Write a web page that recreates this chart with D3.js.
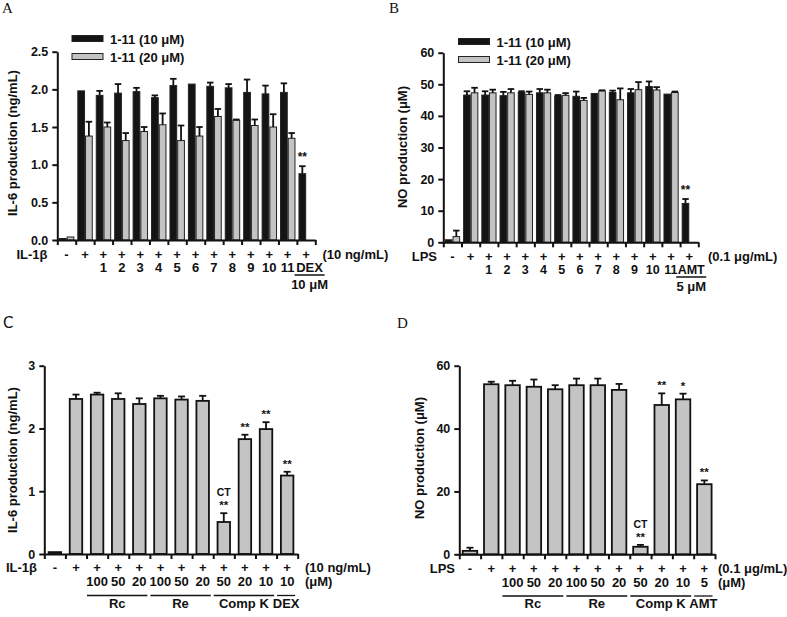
<!DOCTYPE html>
<html><head><meta charset="utf-8">
<script src="https://cdn.jsdelivr.net/npm/d3@7"></script>
<style>
body{margin:0;background:#fff}
svg text{font-family:"Liberation Sans",Arial,sans-serif;font-weight:bold;fill:#111}
</style>
</head><body>
<svg id="chart" width="787" height="617"></svg>
<script>
// ---------- DATA ----------
// Panel A (IL-6, compounds 1-11)
const signsA = ["-","+","+","+","+","+","+","+","+","+","+","+","+","+"];
const numsA  = ["","","1","2","3","4","5","6","7","8","9","10","11",""];
const a10    = [0.02,1.98,1.92,1.95,1.97,1.89,2.05,2.07,2.04,2.02,1.96,1.94,1.96,0.88];
const a10err = [null,null,0.06,0.12,0.05,0.03,0.09,null,0.05,0.05,0.17,0.11,0.12,0.10];
const a20    = [0.04,1.38,1.50,1.32,1.44,1.53,1.32,1.38,1.64,1.59,1.52,1.50,1.35,null];
const a20err = [null,0.19,0.06,0.10,0.06,0.15,0.20,0.12,0.10,0.01,0.08,0.17,0.07,null];
const ticksA = [0,0.5,1.0,1.5,2.0,2.5];
const sigA   = ["","","","","","","","","","","","","","**"];

// Panel B (NO, compounds 1-11)
const signsB = ["-","+","+","+","+","+","+","+","+","+","+","+","+","+"];
const numsB  = ["","","1","2","3","4","5","6","7","8","9","10","11",""];
const b10    = [0.8,46.6,46.6,46.4,47.4,47.3,46.3,46.2,47.1,47.4,47.3,49.3,46.9,12.3];
const b10err = [null,1.2,1.2,1.2,0.4,1.2,0.3,1.5,null,0.6,1.2,1.6,null,1.4];
const b20    = [1.8,47.3,47.3,47.3,46.8,47.3,46.5,44.9,47.9,45.1,48.3,48.2,47.4,null];
const b20err = [1.9,1.6,1.0,1.2,0.9,1.0,0.7,0.8,0.2,3.6,2.4,0.9,0.3,null];
const ticksB = [0,10,20,30,40,50,60];
const sigB   = ["","","","","","","","","","","","","","**"];

// Panel C (IL-6, Rc / Re / Comp K)
const signsC = ["-","+","+","+","+","+","+","+","+","+","+","+"];
const dosesC = ["","","100","50","20","100","50","20","50","20","10","10"];
const cVal   = [0.03,2.47,2.54,2.47,2.39,2.48,2.46,2.44,0.51,1.83,1.99,1.25];
const cErr   = [0,0.07,0.03,0.09,0.09,0.04,0.05,0.08,0.14,0.07,0.11,0.06];
const sigC   = ["","","","","","","","","**","**","**","**"];
const ctC    = ["","","","","","","","","CT","","",""];
const ticksC = [0,1,2,3];
const groupsC = [["Rc",2,4],["Re",5,7],["Comp K",8,10],["DEX",11,11]];

// Panel D (NO, Rc / Re / Comp K)
const signsD = ["-","+","+","+","+","+","+","+","+","+","+","+"];
const dosesD = ["","","100","50","20","100","50","20","50","20","10","5"];
const dVal   = [1.1,54.1,53.8,53.3,52.5,53.8,53.8,52.3,2.4,47.5,49.3,22.3];
const dErr   = [1.0,0.8,1.4,2.3,1.3,2.1,2.1,1.9,0.6,3.7,1.8,1.2];
const sigD   = ["","","","","","","","","**","**","*","**"];
const ctD    = ["","","","","","","","","CT","","",""];
const ticksD = [0,20,40,60];
const groupsD = [["Rc",2,4],["Re",5,7],["Comp K",8,10],["AMT",11,11]];

// ---------- DRAW ----------
const svg = d3.select("#chart");
const BLACK = "#141414", GREY = "#c4c4c4";
const FS = 13;

function axes(cfg, x, xl, y) {
  const ga = svg.append("g").attr("transform", `translate(${cfg.x0},0)`)
    .call(d3.axisLeft(y).tickValues(cfg.ticks).tickFormat(cfg.fmt).tickSize(5).tickSizeOuter(0).tickPadding(4));
  const gb = svg.append("g").attr("transform", `translate(0,${cfg.yb})`)
    .call(d3.axisBottom(xl).tickValues(d3.range(cfg.n + 1)).tickFormat("").tickSize(5).tickSizeOuter(0));
  [ga, gb].forEach(g => {
    g.select(".domain").attr("stroke", "#111").attr("stroke-width", 2);
    g.selectAll(".tick line").attr("stroke", "#111").attr("stroke-width", 2);
  });
  ga.selectAll(".tick text").style("font-size", "12.5px").attr("fill", "#111");
}

function errBar(cx, yTop, yErr, cap) {
  svg.append("line").attr("x1", cx).attr("x2", cx).attr("y1", yTop).attr("y2", yErr)
    .attr("stroke", "#111").attr("stroke-width", 1.8);
  svg.append("line").attr("x1", cx - cap / 2).attr("x2", cx + cap / 2).attr("y1", yErr).attr("y2", yErr)
    .attr("stroke", "#111").attr("stroke-width", 1.8);
}

function text(x, y, s, size, anchor) {
  return svg.append("text").attr("x", x).attr("y", y).attr("text-anchor", anchor || "middle")
    .style("font-size", (size || FS) + "px").text(s);
}

function yTitle(cx, cy, s) {
  svg.append("text").attr("transform", `translate(${cx},${cy}) rotate(-90)`)
    .attr("text-anchor", "middle").attr("dy", "0.35em").style("font-size", FS + "px").text(s);
}

function panelLabel(x, y, s, family) {
  svg.append("text").attr("x", x).attr("y", y)
    .style("font-family", family || "'Liberation Serif','DejaVu Serif',serif").style("font-weight", "normal")
    .style("font-size", "15px").text(s);
}

// Two-series panel (A, B)
function pairPanel(cfg) {
  const n = cfg.n;
  const x = d3.scaleBand().domain(d3.range(n)).range([cfg.x0, cfg.x1]);
  const xl = d3.scaleLinear().domain([0, n]).range([cfg.x0, cfg.x1]);
  const xi = d3.scaleBand().domain([0, 1]).range([1.6, x.bandwidth() - 1.4]);
  const y = d3.scaleLinear().domain(cfg.domain).range([cfg.yb, cfg.yt]);
  const series = [[cfg.s1, cfg.e1, BLACK], [cfg.s2, cfg.e2, GREY]];
  series.forEach(([vals, errs, col], k) => {
    vals.forEach((v, i) => {
      if (v == null) return;
      const bx = x(i) + xi(k);
      svg.append("rect").attr("x", bx + 0.5).attr("y", y(v)).attr("width", xi.bandwidth() - 1)
        .attr("height", y(0) - y(v)).attr("fill", col).attr("stroke", "#222").attr("stroke-width", 1);
      if (errs[i] != null && errs[i] > 0) errBar(bx + xi.bandwidth() / 2, y(v), y(v + errs[i]), 6.5);
    });
  });
  cfg.sig.forEach((s, i) => {
    if (!s) return;
    const v = cfg.s1[i] + (cfg.e1[i] || 0);
    text(x(i) + xi(0) + xi.bandwidth() / 2, y(v) - 5, s, 12);
  });
  axes(cfg, x, xl, y);
  // labels
  text(cfg.rowLabX, cfg.row1, cfg.rowLab, FS, "end");
  cfg.signs.forEach((s, i) => text(x(i) + x.bandwidth() / 2, cfg.row1, s));
  text(cfg.unitX, cfg.row1, cfg.unit, FS, "start");
  cfg.nums.forEach((s, i) => { if (s) text(x(i) + x.bandwidth() / 2, cfg.row2, s, cfg.numFS); });
  const last = n - 1, cxl = x(last) + x.bandwidth() / 2 + cfg.refShift;
  text(cxl, cfg.row2, cfg.ref, cfg.numFS);
  svg.append("line").attr("x1", cxl - 15).attr("x2", cxl + 15).attr("y1", cfg.row2 + 3).attr("y2", cfg.row2 + 3)
    .attr("stroke", "#111").attr("stroke-width", 1.5);
  text(cxl, cfg.row2 + 16.5, cfg.refDose);
  // legend
  cfg.legend.forEach(([lab, col], k) => {
    const ly = cfg.legY + k * 18;
    svg.append("rect").attr("x", cfg.legX).attr("y", ly).attr("width", 31).attr("height", 6)
      .attr("fill", col).attr("stroke", "#222").attr("stroke-width", 1);
    text(cfg.legX + 38, ly + 8.5, lab, FS, "start");
  });
  yTitle(cfg.titleX, cfg.titleY, cfg.title);
}

// Single-series panel (C, D)
function singlePanel(cfg) {
  const n = cfg.n;
  const x = d3.scaleBand().domain(d3.range(n)).range([cfg.x0, cfg.x1]);
  const xl = d3.scaleLinear().domain([0, n]).range([cfg.x0, cfg.x1]);
  const y = d3.scaleLinear().domain(cfg.domain).range([cfg.yb, cfg.yt]);
  const bw = cfg.barW;
  cfg.vals.forEach((v, i) => {
    const cx = x(i) + x.bandwidth() / 2;
    svg.append("rect").attr("x", cx - bw / 2).attr("y", y(v)).attr("width", bw)
      .attr("height", y(0) - y(v)).attr("fill", GREY).attr("stroke", "#111").attr("stroke-width", 1.8);
    if (cfg.errs[i] > 0) errBar(cx, y(v), y(v + cfg.errs[i]), 7);
    const top = y(v + cfg.errs[i]);
    if (cfg.sig[i]) text(cx, top - 4, cfg.sig[i], 11.5);
    if (cfg.ct[i]) text(cx, top - 17, cfg.ct[i], 10.5);
  });
  axes(cfg, x, xl, y);
  text(cfg.rowLabX, cfg.row1, cfg.rowLab, FS, "end");
  cfg.signs.forEach((s, i) => text(x(i) + x.bandwidth() / 2, cfg.row1, s));
  text(cfg.unitX, cfg.row1, cfg.unit, FS, "start");
  cfg.doses.forEach((s, i) => { if (s) text(x(i) + x.bandwidth() / 2, cfg.row2, s); });
  text(cfg.unitX, cfg.row2, "(\u03bcM)", FS, "start");
  cfg.groups.forEach(([lab, a, b]) => {
    const xa = x(a) + 0.5, xb = x(b) + x.bandwidth() - 2.5;
    svg.append("line").attr("x1", xa).attr("x2", xb).attr("y1", cfg.row2 + 9.5).attr("y2", cfg.row2 + 9.5)
      .attr("stroke", "#111").attr("stroke-width", 1.3);
    text((xa + xb) / 2, cfg.row2 + 21.5, lab);
  });
  yTitle(cfg.titleX, cfg.titleY, cfg.title);
}

pairPanel({
  n: 14, x0: 57.3, x1: 315.3, yb: 240, yt: 51.7, domain: [0, 2.5], ticks: ticksA, fmt: d3.format(".1f"),
  s1: a10, e1: a10err, s2: a20, e2: a20err, sig: sigA,
  signs: signsA, nums: numsA, rowLab: "IL-1\u03b2", rowLabX: 47.5, row1: 258.5, row2: 272, numFS: 13,
  unit: "(10 ng/mL)", unitX: 322.5, ref: "DEX", refDose: "10 \u03bcM", refShift: 3.5,
  legend: [["1-11 (10 \u03bcM)", BLACK], ["1-11 (20 \u03bcM)", GREY]], legX: 72, legY: 35.5,
  title: "IL-6 production (ng/mL)", titleX: 12, titleY: 143
});

pairPanel({
  n: 14, x0: 443.3, x1: 698.3, yb: 242.3, yt: 52.7, domain: [0, 60], ticks: ticksB, fmt: d3.format("d"),
  s1: b10, e1: b10err, s2: b20, e2: b20err, sig: sigB,
  signs: signsB, nums: numsB, rowLab: "LPS", rowLabX: 437, row1: 260.5, row2: 274, numFS: 12.5,
  unit: "(0.1 \u03bcg/mL)", unitX: 708, ref: "AMT", refDose: "5 \u03bcM", refShift: 2,
  legend: [["1-11 (10 \u03bcM)", BLACK], ["1-11 (20 \u03bcM)", GREY]], legX: 458.5, legY: 38.5,
  title: "NO production (\u03bcM)", titleX: 402, titleY: 147
});

singlePanel({
  n: 12, x0: 44.3, x1: 297.7, yb: 554, yt: 365.7, domain: [0, 3], ticks: ticksC, fmt: d3.format("d"),
  vals: cVal, errs: cErr, sig: sigC, ct: ctC, barW: 12.5,
  signs: signsC, doses: dosesC, groups: groupsC, rowLab: "IL-1\u03b2", rowLabX: 37, row1: 572, row2: 586,
  unit: "(10 ng/mL)", unitX: 305,
  title: "IL-6 production (ng/mL)", titleX: 12, titleY: 460
});

singlePanel({
  n: 12, x0: 459.3, x1: 715, yb: 554.3, yt: 365.7, domain: [0, 60], ticks: ticksD, fmt: d3.format("d"),
  vals: dVal, errs: dErr, sig: sigD, ct: ctD, barW: 14.5,
  signs: signsD, doses: dosesD, groups: groupsD, rowLab: "LPS", rowLabX: 455, row1: 572.5, row2: 586.5,
  unit: "(0.1 \u03bcg/mL)", unitX: 718,
  title: "NO production (\u03bcM)", titleX: 419, titleY: 458
});

panelLabel(2, 13, "A");
panelLabel(389, 13, "B");
panelLabel(3, 328, "C", "'DejaVu Sans',sans-serif");
panelLabel(397, 328, "D");
</script>
</body></html>
